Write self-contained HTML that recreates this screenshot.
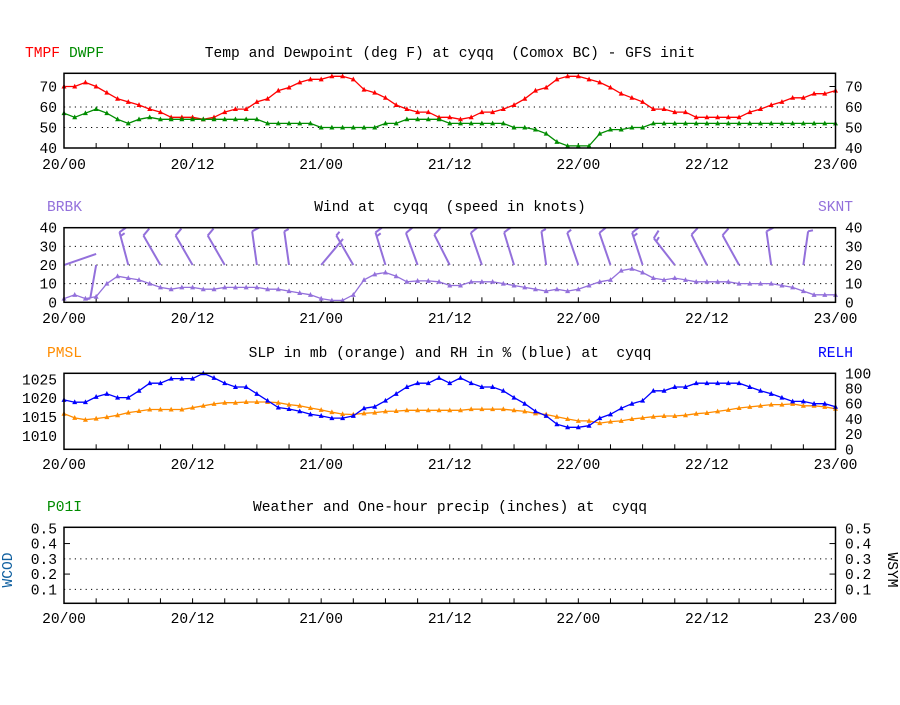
<!DOCTYPE html>
<html><head><meta charset="utf-8"><style>
html,body{margin:0;padding:0;background:#fff}
svg text{font-family:"Liberation Mono",monospace;font-size:14.6px;white-space:pre}
</style></head><body>
<svg id="chart" width="900" height="700" viewBox="0 0 900 700" xmlns="http://www.w3.org/2000/svg" xml:space="preserve">
<rect width="900" height="700" fill="#fff"/>
</svg>
<script>
const xTickLabels=["20/00","20/12","21/00","21/12","22/00","22/12","23/00"];
const tmpf=[70,70,72,70,67,64,62.5,61,59,57.5,55,55,55,54,55,57.5,59,59,62.5,64,68,69.5,72,73.5,73.5,75,75,73.5,68.5,67,64.5,61,59,57.5,57.5,55,55,
54,55,57.5,57.5,59,61,64,68,69.5,73.5,75,75,73.5,72,69.5,66.5,64.5,62.5,59,59,57.5,57.5,55,55,55,55,55,57.5,59,61,62.5,64.5,64.5,66.5,66.5,68];
const dwpf=[57,55,57,59,57,54,52,54,55,54,54,54,54,54,54,54,54,54,54,52,52,52,52,52,50,50,50,50,50,50,52,52,54,54,54,54,52,
52,52,52,52,52,50,50,49,47,43,41,41,41,47,49,49,50,50,52,52,52,52,52,52,52,52,52,52,52,52,52,52,52,52,52,52];
const sknt=[2,4,2,3,10,14,13,12,10,8,7,8,8,7,7,8,8,8,8,7,7,6,5,4,2,1,1,4,12,15,16,14,11,11.5,11.5,11,9,
9,11,11,11,10,9,8,7,6,7,6,7,9,11,12,17,18,16,13,12,13,12,11,11,11,11,10,10,10,10,9,8,6,4,4,4];
const wdir=[71,190,-15,-30,-30,-30,-8,-8,40,-30,-17,-20,-27,-19,-17,-8,-19,-19,-18,-38,-27,-29,-8,8,30];
const pmsl=[1015.9,1014.8,1014.3,1014.6,1015,1015.5,1016.2,1016.6,1017,1017,1017,1017,1017.5,1018,1018.5,1018.8,1018.8,1019,1019,1019,1018.8,1018.3,1018,1017.4,1016.9,1016.3,1015.8,1015.7,1016,1016.2,1016.5,1016.6,1016.8,1016.8,1016.8,1016.8,1016.8,
1016.8,1017.1,1017.1,1017.1,1017.1,1016.8,1016.5,1016,1015.7,1015.1,1014.5,1014,1014,1013.4,1013.8,1014,1014.5,1014.8,1015.1,1015.3,1015.3,1015.5,1015.9,1016.1,1016.5,1016.9,1017.4,1017.7,1018,1018.3,1018.3,1018.5,1018,1018,1017.7,1017.2];
const relh=[65,62,62,69,73,68,68,77,87,87,93,93,93,100,94,87,82,82,73,64,55,53,50,46,44,41,41,44,54,56,64,73,82,87,87,94,87,
94,87,82,82,77,68,60,50,44,33,29,29,31,41,46,54,60,64,77,77,82,82,87,87,87,87,87,82,77,73,68,63,63,60,60,56];

const svg=document.getElementById('chart');
const NS='http://www.w3.org/2000/svg';
const X0=64,X1=835.5,HOURS=72;
function xs(h){return X0+(X1-X0)*h/HOURS;}
function mk(tag,attrs,parent){const e=document.createElementNS(NS,tag);for(const k in attrs)e.setAttribute(k,attrs[k]);(parent||svg).appendChild(e);return e;}
function txt(s,x,y,anchor,fill,parent){const t=mk('text',{x:x,y:y,'text-anchor':anchor||'start',fill:fill||'#000'},parent);t.textContent=s;return t;}

function panel(name,top,bot,title,titleY,labelY){
  const g=mk('g',{});
  
  
  const t=txt(title,450,titleY,'middle','#000',g);
  
  
  for(let h=3;h<HOURS;h+=3){mk('line',{x1:xs(h),x2:xs(h),y1:bot,y2:bot-5,stroke:'#000','stroke-width':1},g);}
  xTickLabels.forEach((s,i)=>{const tl=txt(s,xs(i*12),labelY,'middle','#000',g);
    
    });
  return g;
}
function frame(g,top,bot){const r=mk('rect',{x:X0,y:top,width:X1-X0,height:bot-top,fill:'none',stroke:'#000','stroke-width':1.5},g);
  
  }
function dotted(g,y){mk('line',{x1:X0,x2:X1,y1:y,y2:y,stroke:'#000','stroke-width':1,'stroke-dasharray':'1.2 4.2'},g);}
function yTicks(g,vals,yf,leftFmt,rightVals,ryf,dots,inTicks){
  vals.forEach(v=>{const t=txt(leftFmt(v),57,yf(v)+5,'end','#000',g);
    
    });
  (rightVals||vals).forEach(v=>{const yy=(ryf||yf)(v);const t=txt(leftFmt(v),845,yy+5,'start','#000',g);
    
    });
  (dots||[]).forEach(v=>dotted(g,yf(v)));
  (inTicks||[]).forEach(v=>{const yy=yf(v);mk('line',{x1:X0,x2:X0+6,y1:yy,y2:yy,stroke:'#000'},g);mk('line',{x1:X1-6,x2:X1,y1:yy,y2:yy,stroke:'#000'},g);});
}
function series(g,data,yf,color,name){
  let d='';data.forEach((v,i)=>{d+=(i?'L':'M')+xs(i).toFixed(1)+' '+yf(v).toFixed(1);});
  const p=mk('path',{d:d,fill:'none',stroke:color,'stroke-width':1.3},g);
  
  
  data.forEach((v,i)=>{const x=xs(i),y=yf(v);
    const m=mk('path',{d:`M${x-2.5} ${y+2}L${x} ${y-2.8}L${x+2.5} ${y+2}Z`,fill:color},g);
    
    });
}

// Panel 1
{const top=73.3,bot=148;const yf=v=>148-(v-40)*2.05;
 const g=panel('temp','',bot,'Temp and Dewpoint (deg F) at cyqq  (Comox BC) - GFS init',57,169);
 yTicks(g,[40,50,60,70],yf,v=>String(v),null,null,[50,60],[70]);
 series(g,tmpf,yf,'#ff0000','tmpf');series(g,dwpf,yf,'#008c00','dwpf');
 frame(g,top,bot);
 const a=txt('TMPF',25,57,'start','#ff0000',g);
 const b=txt('DWPF',69,57,'start','#008c00',g);}

// Panel 2
{const top=227.7,bot=302.3;const yf=v=>bot-v*(bot-top)/40;
 const g=panel('wind','',bot,'Wind at  cyqq  (speed in knots)',211,323);
 yTicks(g,[0,10,20,30,40],yf,v=>String(v),null,null,[10,20,30],[]);
 const clip=mk('clipPath',{id:'wclip'},g);mk('rect',{x:X0,y:top,width:X1-X0,height:bot-top},clip);
 const bg=mk('g',{'clip-path':'url(#wclip)'},g);
 wdir.forEach((a,i)=>{const h=i*3,s=sknt[h];const x=xs(h),y=yf(20),L=34;const r=a*Math.PI/180;
   const ex=x+L*Math.sin(r),ey=y-L*Math.cos(r);
   const bb=mk('g',{stroke:'#9370db','stroke-width':2,fill:'none'},bg);
   
   
   mk('line',{x1:x,y1:y,x2:ex,y2:ey},bb);
   let halves=Math.round(s/5);let pos=0;const tr=(a+70)*Math.PI/180;
   while(halves>0){const len=halves>=2?9:5;const bx=ex-pos*Math.sin(r),by=ey+pos*Math.cos(r);
     mk('line',{x1:bx,y1:by,x2:bx+len*Math.sin(tr),y2:by-len*Math.cos(tr)},bb);halves-=2;pos+=4;}
 });
 series(g,sknt,yf,'#9370db','sknt');
 frame(g,top,bot);
 const a=txt('BRBK',47,211,'start','#9370db',g);
 const b=txt('SKNT',818,211,'start','#9370db',g);}

// Panel 3
{const top=373.3,bot=449.3;const yf=v=>379.3+(1025-v)*3.78;const rf=v=>bot-v*(bot-top)/100;
 const g=panel('slp','',bot,'SLP in mb (orange) and RH in % (blue) at  cyqq',357,469);
 [1010,1015,1020,1025].forEach(v=>{const t=txt(String(v),57,yf(v)+5,'end','#000',g);});
 [0,20,40,60,80,100].forEach(v=>{const t=txt(String(v),845,rf(v)+5,'start','#000',g);});
 series(g,pmsl,yf,'#ff8c00','pmsl');series(g,relh,rf,'#0000ff','relh');
 frame(g,top,bot);
 const a=txt('PMSL',47,357,'start','#ff8c00',g);
 const b=txt('RELH',818,357,'start','#0000ff',g);}

// Panel 4
{const top=527.3,bot=603.3;const yf=v=>bot+1.3-v*152.6;
 const g=panel('precip','',bot,'Weather and One-hour precip (inches) at  cyqq',511,623);
 yTicks(g,[0.1,0.2,0.3,0.4,0.5],yf,v=>v.toFixed(1),null,null,[0.1,0.3],[0.2,0.4]);
 frame(g,top,bot);
 const a=txt('P01I',47,511,'start','#008c00',g);
 const w=txt('WCOD',0,0,'middle','#1060a0',g);w.setAttribute('transform','translate(12,570) rotate(-90)');
 const s=txt('WSYM',0,0,'middle','#000',g);s.setAttribute('transform','translate(888,570) rotate(90)');}
</script>
</body></html>
